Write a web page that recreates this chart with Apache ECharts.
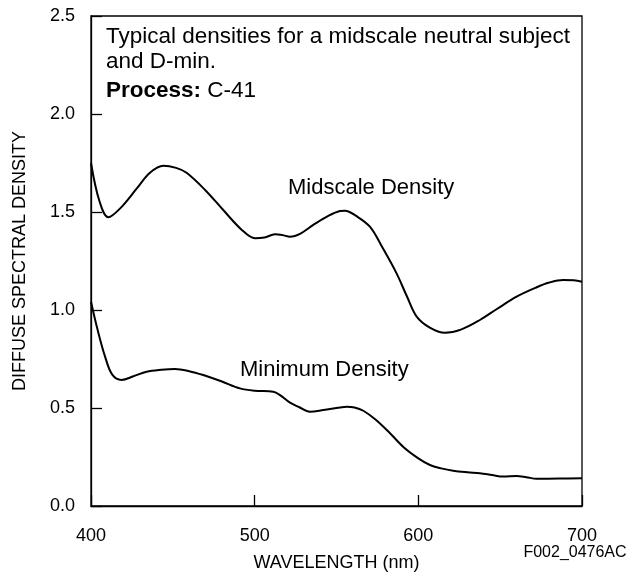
<!DOCTYPE html>
<html><head><meta charset="utf-8">
<script src="https://cdn.jsdelivr.net/npm/echarts@6/dist/echarts.min.js"></script>
<style>html,body{margin:0;padding:0;background:#fff}#c{width:644px;height:576px}</style>
</head><body><div id="c"></div>
<script>
var xTicks = [400, 500, 600, 700];
var yTicks = [0.0, 0.5, 1.0, 1.5, 2.0, 2.5];
var midscaleX = [400, 405, 410.6, 418, 428, 436, 444.2, 452, 458.4, 470, 480.8, 492, 500.2, 506, 512.4, 517, 521.6, 528, 535.8, 545, 552.1, 555.2, 562, 570.4, 578, 586.7, 593, 599, 607, 616.2, 626, 637.6, 648, 660, 672, 680, 688.5, 695, 700];
var midscaleY = [1.75, 1.56, 1.473, 1.52, 1.62, 1.70, 1.736, 1.725, 1.70, 1.61, 1.51, 1.41, 1.366, 1.37, 1.386, 1.382, 1.374, 1.39, 1.434, 1.48, 1.505, 1.507, 1.48, 1.425, 1.32, 1.187, 1.07, 0.966, 0.91, 0.884, 0.90, 0.949, 1.005, 1.068, 1.115, 1.14, 1.153, 1.152, 1.144];
var minimumX = [400, 404, 408.6, 413, 418.7, 426, 434, 443, 451.3, 460, 468.6, 480, 491, 500, 511.4, 515.5, 521.6, 527, 533.8, 542, 552.1, 556.2, 561, 566.4, 574, 582.7, 591, 600, 607.1, 614, 621.3, 630, 637.6, 645, 651.9, 660, 666, 672.3, 686, 700];
var minimumY = [1.042, 0.90, 0.762, 0.67, 0.643, 0.662, 0.685, 0.695, 0.699, 0.688, 0.668, 0.635, 0.600, 0.588, 0.583, 0.566, 0.527, 0.505, 0.481, 0.490, 0.503, 0.507, 0.503, 0.486, 0.44, 0.371, 0.30, 0.243, 0.209, 0.192, 0.180, 0.172, 0.167, 0.158, 0.150, 0.153, 0.147, 0.139, 0.140, 0.141];

function pairs(xs, ys){ return xs.map(function(x,i){ return [x, ys[i]]; }); }

var chart = echarts.init(document.getElementById('c'), null, {renderer:'canvas'});
var font = 'Liberation Sans, Arial, Helvetica, sans-serif';
function txt(s, x, y, size){
  return {type: 'text', x: x, y: y, style: {text: s, font: size + 'px ' + font, fill: '#000', verticalAlign: 'middle', align: 'left'}};
}
chart.setOption({
  animation: false,
  grid: {left: 91, right: 62, top: 16, bottom: 70, containLabel: false, outerBoundsMode: 'none',
    show: true, borderColor: '#000', borderWidth: 1.3, backgroundColor: 'transparent'},
  xAxis: {
    type: 'value', min: 400, max: 700, interval: 100,
    name: 'WAVELENGTH (nm)', nameLocation: 'middle', nameGap: 48,
    nameTextStyle: {fontFamily: font, fontSize: 18, color: '#000'},
    axisLine: {show: true, lineStyle: {color: '#000', width: 1.3}},
    axisTick: {show: true, inside: true, length: 11, lineStyle: {color: '#000', width: 1.3}},
    axisLabel: {fontFamily: font, fontSize: 18, color: '#000', margin: 21,
      formatter: function(v){ return xTicks.indexOf(v) >= 0 ? String(v) : ''; }},
    splitLine: {show: false}
  },
  yAxis: {
    type: 'value', min: 0, max: 2.5, interval: 0.5,
    name: 'DIFFUSE SPECTRAL DENSITY', nameLocation: 'middle', nameGap: 62, nameRotate: 90,
    nameTextStyle: {fontFamily: font, fontSize: 18, color: '#000'},
    axisLine: {show: true, lineStyle: {color: '#000', width: 1.3}},
    axisTick: {show: true, inside: true, length: 11, lineStyle: {color: '#000', width: 1.3}},
    axisLabel: {fontFamily: font, fontSize: 18, color: '#000', margin: 16,
      formatter: function(v){ return v.toFixed(1); }},
    splitLine: {show: false}
  },
  series: [
    {type: 'line', data: pairs(midscaleX, midscaleY), smooth: 0.35, showSymbol: false,
      lineStyle: {color: '#000', width: 2}},
    {type: 'line', data: pairs(minimumX, minimumY), smooth: 0.35, showSymbol: false,
      lineStyle: {color: '#000', width: 2}}
  ],
  graphic: [
    txt('Typical densities for a midscale neutral subject', 106, 37, 22.5),
    txt('and D-min.', 106, 62, 22.5),
    {type: 'text', x: 106, y: 91, style: {text: '{b|Process:} C-41', font: '22.5px ' + font, fill: '#000', verticalAlign: 'middle',
      rich: {b: {fontWeight: 'bold', fontSize: 22.5, fontFamily: font}}}},
    txt('Midscale Density', 288, 188, 22),
    txt('Minimum Density', 240, 370, 22),
    {type: 'text', x: 575, y: 553, style: {text: 'F002_0476AC', font: '16px ' + font, fill: '#000', align: 'center', verticalAlign: 'middle'}}
  ]
});
</script></body></html>
